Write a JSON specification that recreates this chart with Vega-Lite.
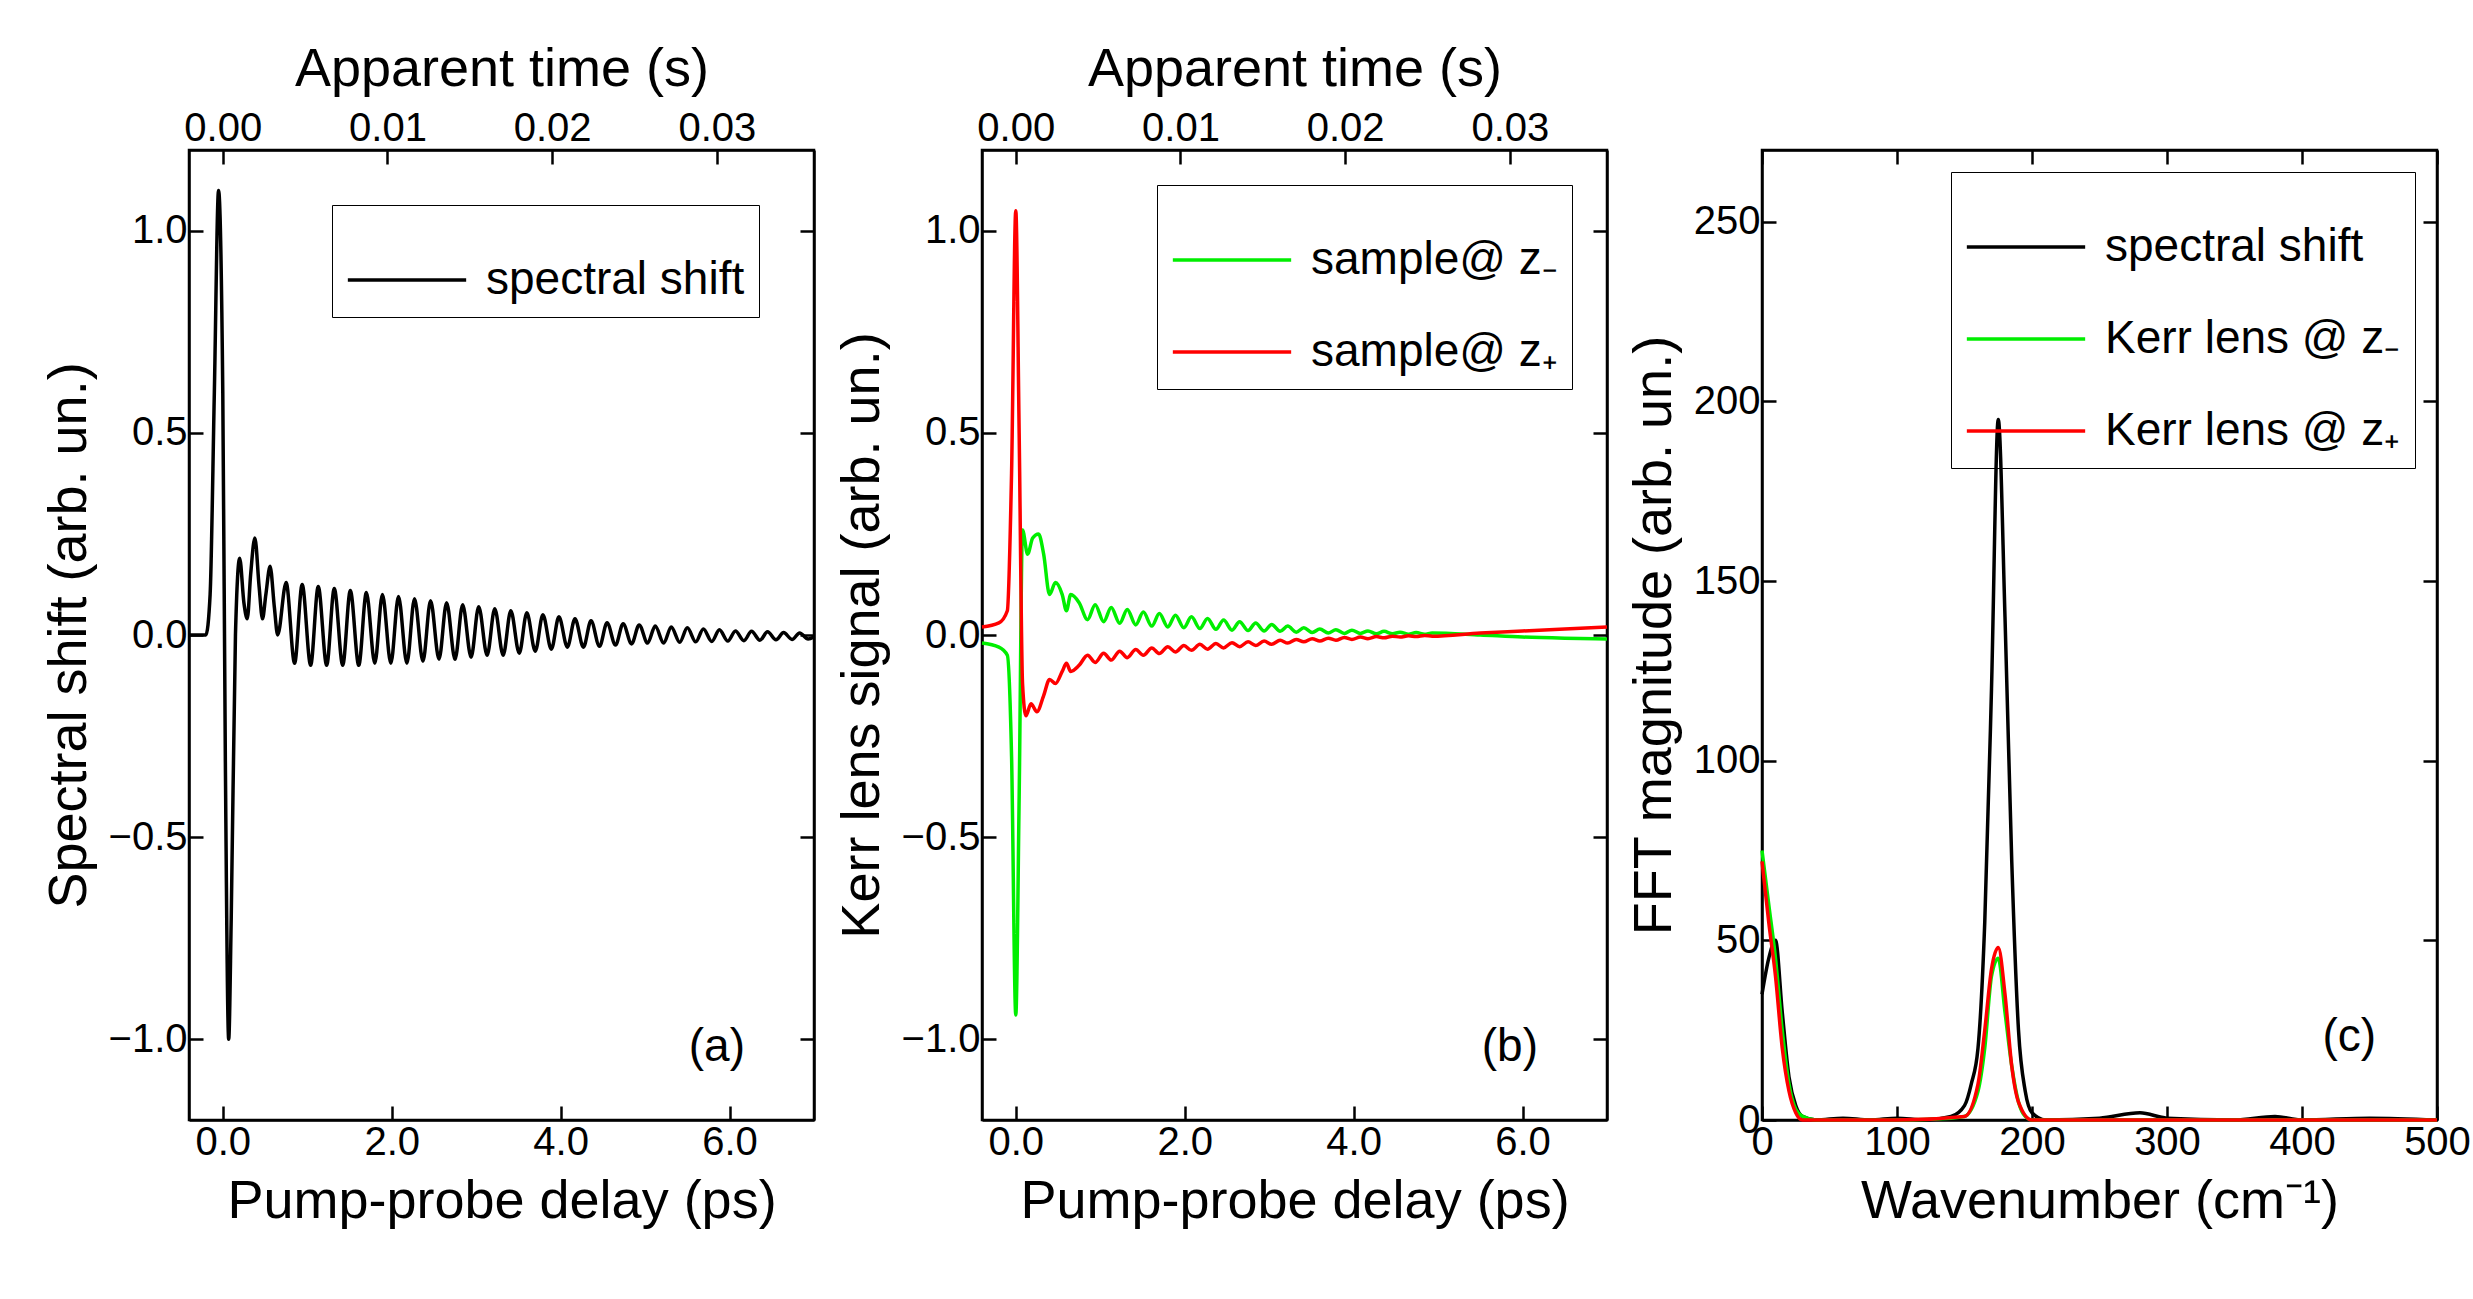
{
  "$schema": "https://vega.github.io/schema/vega-lite/v6.json",
  "padding": {"left": 40, "top": 40, "right": 5, "bottom": 5},
  "spacing": 10,
  "resolve": {"scale": {"color": "independent"}},
  "config": {
    "font": "Liberation Sans",
    "view": {"stroke": "black", "strokeWidth": 2.5},
    "axis": {"grid": false, "labelFont": "Liberation Sans", "titleFont": "Liberation Sans", "labelFontSize": 40, "titleFontSize": 54, "titleFontWeight": "normal", "labelColor": "black", "titleColor": "black", "tickColor": "black", "domainColor": "black", "domainWidth": 2.5, "tickWidth": 2.5, "tickSize": -14, "labelPadding": 16, "titlePadding": 12, "labelFlush": false},
    "legend": {"labelFont": "Liberation Sans", "labelFontSize": 46, "labelColor": "black", "strokeColor": "black", "padding": 14, "symbolType": "stroke", "symbolSize": 14000, "symbolStrokeWidth": 3, "rowPadding": 8, "labelOffset": 18, "title": null, "labelLimit": 600},
    "line": {"strokeWidth": 3.5, "interpolate": "monotone"}
  },
  "datasets": {
    "a": [
      {"t": -0.4, "v": 0}, {"t": -0.3, "v": 0}, {"t": -0.2, "v": 0.0}, {"t": -0.15, "v": 0.1}, {"t": -0.1, "v": 0.6}, {"t": -0.05, "v": 1.1}, {"t": 0.0, "v": 0.6}, {"t": 0.03, "v": -0.3}, {"t": 0.07, "v": -1.0}, {"t": 0.1, "v": -0.7}, {"t": 0.15, "v": 0.0}, {"t": 0.2, "v": 0.19}, {"t": 0.25, "v": 0.08}, {"t": 0.29, "v": 0.04}, {"t": 0.33, "v": 0.15}, {"t": 0.38, "v": 0.24}, {"t": 0.43, "v": 0.12}, {"t": 0.47, "v": 0.04}, {"t": 0.51, "v": 0.1}, {"t": 0.56, "v": 0.17}, {"t": 0.61, "v": 0.07}, {"t": 0.65, "v": 0.0},
      {"t": 0.75, "v": 0.13}, {"t": 0.85, "v": -0.07}, {"t": 0.94, "v": 0.125}, {"t": 1.04, "v": -0.075}, {"t": 1.13, "v": 0.12}, {"t": 1.23, "v": -0.075}, {"t": 1.32, "v": 0.115}, {"t": 1.42, "v": -0.075}, {"t": 1.51, "v": 0.11}, {"t": 1.61, "v": -0.075}, {"t": 1.7, "v": 0.105}, {"t": 1.8, "v": -0.07}, {"t": 1.89, "v": 0.1}, {"t": 1.99, "v": -0.07}, {"t": 2.08, "v": 0.095}, {"t": 2.18, "v": -0.07}, {"t": 2.27, "v": 0.09}, {"t": 2.37, "v": -0.065}, {"t": 2.46, "v": 0.085}, {"t": 2.56, "v": -0.06}, {"t": 2.65, "v": 0.08}, {"t": 2.75, "v": -0.06}, {"t": 2.84, "v": 0.075}, {"t": 2.94, "v": -0.055}, {"t": 3.03, "v": 0.07}, {"t": 3.13, "v": -0.05}, {"t": 3.22, "v": 0.065}, {"t": 3.32, "v": -0.05}, {"t": 3.41, "v": 0.06}, {"t": 3.51, "v": -0.045}, {"t": 3.6, "v": 0.055}, {"t": 3.7, "v": -0.04}, {"t": 3.79, "v": 0.05}, {"t": 3.89, "v": -0.035}, {"t": 3.98, "v": 0.045}, {"t": 4.08, "v": -0.03}, {"t": 4.17, "v": 0.04}, {"t": 4.27, "v": -0.03}, {"t": 4.36, "v": 0.035}, {"t": 4.46, "v": -0.028}, {"t": 4.55, "v": 0.03}, {"t": 4.65, "v": -0.025}, {"t": 4.74, "v": 0.028}, {"t": 4.84, "v": -0.022}, {"t": 4.93, "v": 0.025}, {"t": 5.03, "v": -0.02}, {"t": 5.12, "v": 0.022}, {"t": 5.22, "v": -0.02}, {"t": 5.31, "v": 0.02}, {"t": 5.41, "v": -0.018}, {"t": 5.5, "v": 0.018}, {"t": 5.6, "v": -0.017}, {"t": 5.69, "v": 0.015}, {"t": 5.79, "v": -0.016}, {"t": 5.88, "v": 0.013}, {"t": 5.98, "v": -0.015}, {"t": 6.07, "v": 0.01}, {"t": 6.17, "v": -0.014}, {"t": 6.26, "v": 0.009}, {"t": 6.36, "v": -0.013}, {"t": 6.45, "v": 0.008}, {"t": 6.55, "v": -0.012}, {"t": 6.64, "v": 0.006}, {"t": 6.74, "v": -0.011}, {"t": 6.83, "v": 0.005}, {"t": 6.93, "v": -0.01}, {"t": 7.0, "v": -0.005}
    ],
    "g": [
      {"t": -0.4, "v": -0.02}, {"t": -0.2, "v": -0.03}, {"t": -0.1, "v": -0.05}, {"t": -0.05, "v": -0.3}, {"t": 0.0, "v": -0.94}, {"t": 0.04, "v": -0.4}, {"t": 0.08, "v": 0.26}, {"t": 0.14, "v": 0.2}, {"t": 0.2, "v": 0.24}, {"t": 0.27, "v": 0.25}, {"t": 0.33, "v": 0.2}, {"t": 0.4, "v": 0.1}, {"t": 0.47, "v": 0.13}, {"t": 0.55, "v": 0.1}, {"t": 0.6, "v": 0.06}, {"t": 0.65, "v": 0.1},
      {"t": 0.75, "v": 0.08}, {"t": 0.85, "v": 0.038}, {"t": 0.94, "v": 0.075}, {"t": 1.04, "v": 0.033}, {"t": 1.13, "v": 0.068}, {"t": 1.23, "v": 0.029}, {"t": 1.32, "v": 0.063}, {"t": 1.42, "v": 0.025}, {"t": 1.51, "v": 0.057}, {"t": 1.61, "v": 0.022}, {"t": 1.7, "v": 0.053}, {"t": 1.8, "v": 0.02}, {"t": 1.89, "v": 0.049}, {"t": 1.99, "v": 0.018}, {"t": 2.08, "v": 0.045}, {"t": 2.18, "v": 0.016}, {"t": 2.27, "v": 0.041}, {"t": 2.37, "v": 0.014}, {"t": 2.46, "v": 0.037}, {"t": 2.56, "v": 0.012}, {"t": 2.65, "v": 0.033}, {"t": 2.75, "v": 0.011}, {"t": 2.84, "v": 0.03}, {"t": 2.94, "v": 0.01}, {"t": 3.03, "v": 0.026}, {"t": 3.13, "v": 0.009}, {"t": 3.22, "v": 0.022}, {"t": 3.32, "v": 0.007}, {"t": 3.41, "v": 0.018}, {"t": 3.51, "v": 0.006}, {"t": 3.6, "v": 0.015}, {"t": 3.7, "v": 0.005}, {"t": 3.79, "v": 0.013}, {"t": 3.89, "v": 0.004}, {"t": 3.98, "v": 0.012}, {"t": 4.08, "v": 0.004}, {"t": 4.17, "v": 0.01}, {"t": 4.27, "v": 0.003}, {"t": 4.36, "v": 0.009}, {"t": 4.46, "v": 0.003}, {"t": 4.55, "v": 0.007}, {"t": 4.65, "v": 0.002}, {"t": 4.74, "v": 0.006}, {"t": 4.84, "v": 0.002}, {"t": 4.93, "v": 0.005}, {"t": 5.5, "v": 0.0}, {"t": 6.0, "v": -0.005}, {"t": 6.5, "v": -0.008}, {"t": 7.0, "v": -0.01}
    ],
    "r": [
      {"t": -0.4, "v": 0.02}, {"t": -0.2, "v": 0.03}, {"t": -0.1, "v": 0.06}, {"t": -0.05, "v": 0.4}, {"t": 0.0, "v": 1.05}, {"t": 0.04, "v": 0.5}, {"t": 0.08, "v": -0.12}, {"t": 0.12, "v": -0.2}, {"t": 0.18, "v": -0.17}, {"t": 0.25, "v": -0.19}, {"t": 0.33, "v": -0.15}, {"t": 0.4, "v": -0.11}, {"t": 0.47, "v": -0.12}, {"t": 0.55, "v": -0.09}, {"t": 0.6, "v": -0.07}, {"t": 0.65, "v": -0.09},
      {"t": 0.75, "v": -0.075}, {"t": 0.85, "v": -0.05}, {"t": 0.94, "v": -0.068}, {"t": 1.04, "v": -0.045}, {"t": 1.13, "v": -0.062}, {"t": 1.23, "v": -0.04}, {"t": 1.32, "v": -0.056}, {"t": 1.42, "v": -0.036}, {"t": 1.51, "v": -0.05}, {"t": 1.61, "v": -0.032}, {"t": 1.7, "v": -0.046}, {"t": 1.8, "v": -0.029}, {"t": 1.89, "v": -0.042}, {"t": 1.99, "v": -0.026}, {"t": 2.08, "v": -0.038}, {"t": 2.18, "v": -0.023}, {"t": 2.27, "v": -0.035}, {"t": 2.37, "v": -0.021}, {"t": 2.46, "v": -0.032}, {"t": 2.56, "v": -0.019}, {"t": 2.65, "v": -0.029}, {"t": 2.75, "v": -0.017}, {"t": 2.84, "v": -0.026}, {"t": 2.94, "v": -0.015}, {"t": 3.03, "v": -0.023}, {"t": 3.13, "v": -0.013}, {"t": 3.22, "v": -0.02}, {"t": 3.32, "v": -0.011}, {"t": 3.41, "v": -0.017}, {"t": 3.51, "v": -0.009}, {"t": 3.6, "v": -0.015}, {"t": 3.7, "v": -0.008}, {"t": 3.79, "v": -0.013}, {"t": 3.89, "v": -0.006}, {"t": 3.98, "v": -0.011}, {"t": 4.08, "v": -0.005}, {"t": 4.17, "v": -0.009}, {"t": 4.27, "v": -0.004}, {"t": 4.36, "v": -0.007}, {"t": 4.46, "v": -0.003}, {"t": 4.55, "v": -0.005}, {"t": 4.65, "v": -0.002}, {"t": 4.74, "v": -0.004}, {"t": 4.84, "v": -0.001}, {"t": 4.93, "v": -0.003}, {"t": 5.5, "v": 0.005}, {"t": 6.0, "v": 0.01}, {"t": 6.5, "v": 0.015}, {"t": 7.0, "v": 0.02}
    ],
    "ck": [
      {"w": 0, "v": 35}, {"w": 5, "v": 45}, {"w": 10, "v": 50}, {"w": 15, "v": 30}, {"w": 20, "v": 12}, {"w": 25, "v": 4}, {"w": 30, "v": 1}, {"w": 40, "v": 0}, {"w": 60, "v": 0.5}, {"w": 80, "v": 0}, {"w": 100, "v": 0.5}, {"w": 120, "v": 0}, {"w": 140, "v": 1}, {"w": 150, "v": 4}, {"w": 155, "v": 10}, {"w": 160, "v": 20}, {"w": 165, "v": 55}, {"w": 170, "v": 120}, {"w": 175, "v": 195}, {"w": 180, "v": 140}, {"w": 185, "v": 72}, {"w": 190, "v": 25}, {"w": 195, "v": 8}, {"w": 200, "v": 2}, {"w": 210, "v": 0}, {"w": 250, "v": 0.5}, {"w": 280, "v": 2}, {"w": 300, "v": 0.5}, {"w": 350, "v": 0}, {"w": 380, "v": 1}, {"w": 400, "v": 0}, {"w": 450, "v": 0.5}, {"w": 500, "v": 0}
    ],
    "cg": [
      {"w": 0, "v": 75}, {"w": 5, "v": 60}, {"w": 10, "v": 45}, {"w": 15, "v": 25}, {"w": 20, "v": 10}, {"w": 25, "v": 3}, {"w": 30, "v": 1}, {"w": 40, "v": 0}, {"w": 100, "v": 0}, {"w": 140, "v": 0.5}, {"w": 150, "v": 1}, {"w": 160, "v": 8}, {"w": 165, "v": 20}, {"w": 170, "v": 40}, {"w": 175, "v": 45}, {"w": 180, "v": 30}, {"w": 185, "v": 15}, {"w": 190, "v": 5}, {"w": 195, "v": 1}, {"w": 200, "v": 0}, {"w": 300, "v": 0}, {"w": 500, "v": 0}
    ],
    "cr": [
      {"w": 0, "v": 72}, {"w": 5, "v": 55}, {"w": 10, "v": 40}, {"w": 15, "v": 20}, {"w": 20, "v": 8}, {"w": 25, "v": 2}, {"w": 30, "v": 0}, {"w": 100, "v": 0}, {"w": 150, "v": 1}, {"w": 160, "v": 10}, {"w": 165, "v": 25}, {"w": 170, "v": 42}, {"w": 175, "v": 48}, {"w": 180, "v": 35}, {"w": 185, "v": 15}, {"w": 190, "v": 5}, {"w": 200, "v": 0}, {"w": 500, "v": 0}
    ]
  },
  "hconcat": [
    {
      "width": 625, "height": 970,
      "resolve": {"scale": {"x": "independent", "y": "independent"}},
      "layer": [
        {
          "layer": [
            {"data": {"name": "a"}, "mark": {"type": "line", "color": "black"},
             "encoding": {
               "x": {"field": "t", "type": "quantitative", "scale": {"domain": [-0.4, 7.0], "nice": false}, "axis": {"title": "Pump-probe delay (ps)", "values": [0, 2, 4, 6], "format": ".1f"}},
               "y": {"field": "v", "type": "quantitative", "scale": {"domain": [-1.2, 1.2], "nice": false}, "axis": {"title": "Spectral shift (arb. un.)", "values": [-1, -0.5, 0, 0.5, 1], "format": ".1f"}},
               "color": {"datum": "spectral shift", "scale": {"domain": ["spectral shift"], "range": ["black"]}, "legend": {"orient": "top-right", "offset": 55}}
             }},
            {"data": {"values": [{}]}, "mark": {"type": "text", "fontSize": 46, "color": "black"},
             "encoding": {"x": {"datum": 5.85, "type": "quantitative"}, "y": {"datum": -1.02, "type": "quantitative"}, "text": {"value": "(a)"}}}
          ]
        },
        {"data": {"values": [{}]}, "mark": {"type": "point", "opacity": 0},
         "encoding": {
           "x": {"datum": 0, "type": "quantitative", "scale": {"domain": [-0.00205, 0.0359], "nice": false}, "axis": {"orient": "top", "title": "Apparent time (s)", "values": [0, 0.01, 0.02, 0.03], "format": ".2f"}},
           "y": {"datum": 0, "type": "quantitative", "scale": {"domain": [-1.2, 1.2], "nice": false}, "axis": {"orient": "right", "labels": false, "title": null, "values": [-1, -0.5, 0, 0.5, 1]}}
         }}
      ]
    },
    {
      "width": 625, "height": 970,
      "resolve": {"scale": {"x": "independent", "y": "independent"}},
      "layer": [
        {
          "layer": [
            {"data": {"name": "g"}, "mark": {"type": "line"},
             "encoding": {
               "x": {"field": "t", "type": "quantitative", "scale": {"domain": [-0.4, 7.0], "nice": false}, "axis": {"title": "Pump-probe delay (ps)", "values": [0, 2, 4, 6], "format": ".1f"}},
               "y": {"field": "v", "type": "quantitative", "scale": {"domain": [-1.2, 1.2], "nice": false}, "axis": {"title": "Kerr lens signal (arb. un.)", "values": [-1, -0.5, 0, 0.5, 1], "format": ".1f"}},
               "color": {"datum": "sample@ z₋", "scale": {"domain": ["sample@ z₋", "sample@ z₊"], "range": ["#00ee00", "#ff0000"]}, "legend": {"orient": "top-right", "offset": 35}}
             }},
            {"data": {"name": "r"}, "mark": {"type": "line"},
             "encoding": {
               "x": {"field": "t", "type": "quantitative"},
               "y": {"field": "v", "type": "quantitative"},
               "color": {"datum": "sample@ z₊"}
             }},
            {"data": {"values": [{}]}, "mark": {"type": "text", "fontSize": 46, "color": "black"},
             "encoding": {"x": {"datum": 5.85, "type": "quantitative"}, "y": {"datum": -1.02, "type": "quantitative"}, "text": {"value": "(b)"}}}
          ]
        },
        {"data": {"values": [{}]}, "mark": {"type": "point", "opacity": 0},
         "encoding": {
           "x": {"datum": 0, "type": "quantitative", "scale": {"domain": [-0.00205, 0.0359], "nice": false}, "axis": {"orient": "top", "title": "Apparent time (s)", "values": [0, 0.01, 0.02, 0.03], "format": ".2f"}},
           "y": {"datum": 0, "type": "quantitative", "scale": {"domain": [-1.2, 1.2], "nice": false}, "axis": {"orient": "right", "labels": false, "title": null, "values": [-1, -0.5, 0, 0.5, 1]}}
         }}
      ]
    },
    {
      "width": 675, "height": 970,
      "resolve": {"scale": {"x": "independent", "y": "independent"}},
      "layer": [
        {
          "layer": [
            {"data": {"name": "ck"}, "mark": {"type": "line"},
             "encoding": {
               "x": {"field": "w", "type": "quantitative", "scale": {"domain": [0, 500], "nice": false}, "axis": {"title": "Wavenumber (cm⁻¹)", "values": [0, 100, 200, 300, 400, 500]}},
               "y": {"field": "v", "type": "quantitative", "scale": {"domain": [0, 270], "nice": false}, "axis": {"title": "FFT magnitude (arb. un.)", "values": [0, 50, 100, 150, 200, 250]}},
               "color": {"datum": "spectral shift", "scale": {"domain": ["spectral shift", "Kerr lens @ z₋", "Kerr lens @ z₊"], "range": ["black", "#00ee00", "#ff0000"]}, "legend": {"orient": "top-right", "offset": 22}}
             }},
            {"data": {"name": "cg"}, "mark": {"type": "line"},
             "encoding": {"x": {"field": "w", "type": "quantitative"}, "y": {"field": "v", "type": "quantitative"}, "color": {"datum": "Kerr lens @ z₋"}}},
            {"data": {"name": "cr"}, "mark": {"type": "line"},
             "encoding": {"x": {"field": "w", "type": "quantitative"}, "y": {"field": "v", "type": "quantitative"}, "color": {"datum": "Kerr lens @ z₊"}}},
            {"data": {"values": [{}]}, "mark": {"type": "text", "fontSize": 46, "color": "black"},
             "encoding": {"x": {"datum": 435, "type": "quantitative"}, "y": {"datum": 23, "type": "quantitative"}, "text": {"value": "(c)"}}}
          ]
        },
        {"data": {"values": [{}]}, "mark": {"type": "point", "opacity": 0},
         "encoding": {
           "x": {"datum": 0, "type": "quantitative", "scale": {"domain": [0, 500], "nice": false}, "axis": {"orient": "top", "labels": false, "title": null, "values": [0, 100, 200, 300, 400, 500]}},
           "y": {"datum": 0, "type": "quantitative", "scale": {"domain": [0, 270], "nice": false}, "axis": {"orient": "right", "labels": false, "title": null, "values": [0, 50, 100, 150, 200, 250]}}
         }}
      ]
    }
  ]
}
